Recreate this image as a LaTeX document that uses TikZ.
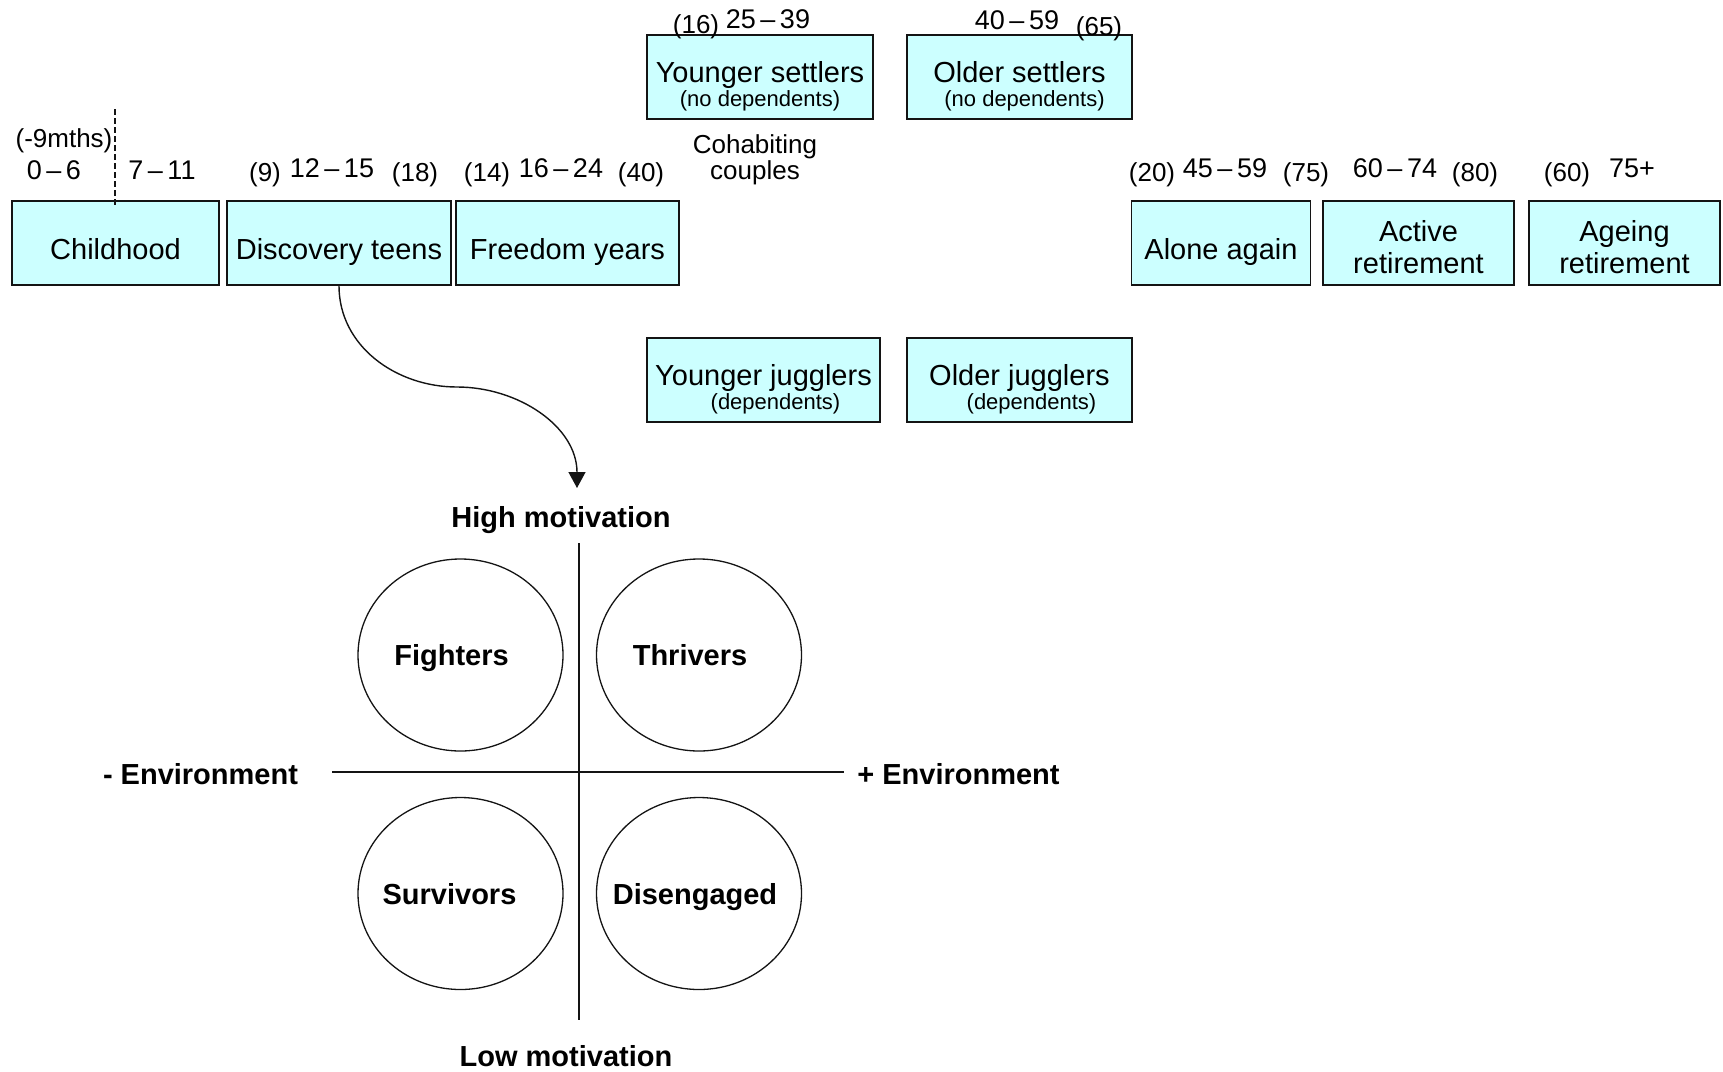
\documentclass[tikz,border=0pt]{standalone}
\usepackage{fontspec}
\setmainfont{Liberation Sans}
\usepackage{tikz}
\usetikzlibrary{arrows.meta, positioning, calc, shapes.geometric}
\definecolor{stageCyan}{RGB}{204,255,255}
\definecolor{mainBlack}{gray}{0.08}

\newcommand{\fntStage}{\fontsize{29}{32}\selectfont}
\newcommand{\fntSmall}{\fontsize{22}{24}\selectfont}
\newcommand{\fntAge}{\fontsize{27}{30}\selectfont}
\newcommand{\fntParen}{\fontsize{26}{28}\selectfont}
\newcommand{\fntBold}{\fontsize{29}{32}\selectfont\bfseries}

\tikzset{
  stage/.style={draw=mainBlack, line width=1.5pt, fill=stageCyan, inner sep=0pt,
    minimum height=84pt, align=center, font=\fntStage},
  oneline/.style={text height=33pt, text depth=0pt},
  agebig/.style={anchor=base, inner sep=0pt, font=\fntAge},
  agesmall/.style={anchor=base, inner sep=0pt, font=\fntParen},
  segcircle/.style={draw=mainBlack, line width=1.3pt, ellipse, minimum width=205pt,
    minimum height=192pt, inner sep=0pt},
  segname/.style={anchor=base, inner sep=0pt, font=\fntBold},
  quadline/.style={mainBlack, line width=1.6pt}
}

\begin{document}
\begin{tikzpicture}[x=1pt, y=-1pt, >={Triangle[width=17pt,length=16pt]}]
    \useasboundingbox (0,0) rectangle (1723,1071);

    % Life stages
    \node[stage, oneline, minimum width=207pt] (child) at (115.5,243) {Childhood};
    \node[stage, oneline, minimum width=224pt] (disc) at (339,243) {Discovery teens};
    \node[stage, oneline, minimum width=223pt] (free) at (567.5,243) {Freedom years};
    \node[stage, minimum width=226pt] (ysettle) at (760,77)
        {\rule{0pt}{39pt}Younger settlers\\[-8pt]{\fntSmall (no dependents)}};
    \node[stage, minimum width=225pt] (osettle) at (1019.5,77)
        {\rule{0pt}{39pt}Older settlers\\[-8pt]{\fntSmall\hspace*{10pt}(no dependents)}};
    \node[stage, minimum width=233pt] (yjuggle) at (763.5,380)
        {\rule{0pt}{39pt}Younger jugglers\\[-8pt]{\fntSmall\hspace*{24pt}(dependents)}};
    \node[stage, minimum width=225pt] (ojuggle) at (1019.5,380)
        {\rule{0pt}{39pt}Older jugglers\\[-8pt]{\fntSmall\hspace*{24pt}(dependents)}};
    \node[stage, oneline, minimum width=179pt] (alone) at (1221,243) {Alone again};
    \node[stage, minimum width=191pt] (active) at (1418.5,243) {\rule{0pt}{30pt}Active\\retirement};
    \node[stage, minimum width=191pt] (ageing) at (1624.5,243) {\rule{0pt}{30pt}Ageing\\retirement};

    % Ages
    \node[agesmall] (pre) at (64,147) {(-9mths)};
    \node[agebig] (a06) at (54,179) {0\,–\,6};
    \node[agebig] (a711) at (162,179) {7\,–\,11};
    \draw[mainBlack, line width=2pt, dash pattern=on 6pt off 3pt]
        ($(child.north)+(-0.5,-91)$) -- ($(child.north)+(-0.5,6)$);
    \node[agesmall] (d9) at (265,181) {(9)};
    \node[agebig] (a1215) at (332,177) {12\,–\,15};
    \node[agesmall] (d18) at (415,181) {(18)};
    \node[agesmall] (f14) at (487,181) {(14)};
    \node[agebig] (a1624) at (561,177) {16\,–\,24};
    \node[agesmall] (f40) at (641,181) {(40)};
    \node[agesmall] (s16) at (696,33) {(16)};
    \node[agebig] (a2539) at (768,28) {25\,–\,39};
    \node[agebig] (a4059) at (1017,29) {40\,–\,59};
    \node[agesmall] (s65) at (1099,35) {(65)};
    \node[font=\fontsize{26}{26}\selectfont, align=center, inner sep=0pt] (cohab) at (755,160)
        {Cohabiting\\couples};
    \node[agesmall] (l20) at (1152,181) {(20)};
    \node[agebig] (a4559) at (1225,177) {45\,–\,59};
    \node[agesmall] (l75) at (1306,181) {(75)};
    \node[agebig] (a6074) at (1395,177) {60\,–\,74};
    \node[agesmall] (r80) at (1475,181) {(80)};
    \node[agesmall] (r60) at (1567,181) {(60)};
    \node[agebig] (a75) at (1632,177) {75+};

    % Arrow down to the grid
    \coordinate (bend) at (457,387);
    \coordinate (tip) at (577,488);
    \draw[->, line width=1.4pt, mainBlack] (disc.south) to[out=-90, in=180] (bend)
        to[out=0, in=90] (tip);

    % Quadrant
    \coordinate (vtop) at (579,543);
    \coordinate (vbot) at (579,1020);
    \coordinate (hleft) at (332,772);
    \coordinate (hright) at (844,772);
    \draw[quadline] (vtop) -- (vbot);
    \draw[quadline] (hleft) -- (hright);

    \node[segname] (hiMot) at (561,527) {High motivation};
    \node[segname] (loMot) at (566,1066) {Low motivation};
    \node[segname] (envMinus) at (200.5,784) {- Environment};
    \node[segname] (envPlus) at (958.5,784) {+ Environment};

    % Segments
    \node[segcircle] (fighters) at (460.5,655) {};
    \node[segcircle] (thrivers) at (699,655) {};
    \node[segcircle] (survivors) at (460.5,893.5) {};
    \node[segcircle] (disengaged) at (699,893.5) {};
    \node[segname] (fightersTxt) at ($(fighters)+(-9,10.5)$) {Fighters};
    \node[segname] (thriversTxt) at ($(thrivers)+(-9,10.5)$) {Thrivers};
    \node[segname] (survivorsTxt) at ($(survivors)+(-11,10.5)$) {Survivors};
    \node[segname] (disengagedTxt) at ($(disengaged)+(-4,10.5)$) {Disengaged};
\end{tikzpicture}
\end{document}
